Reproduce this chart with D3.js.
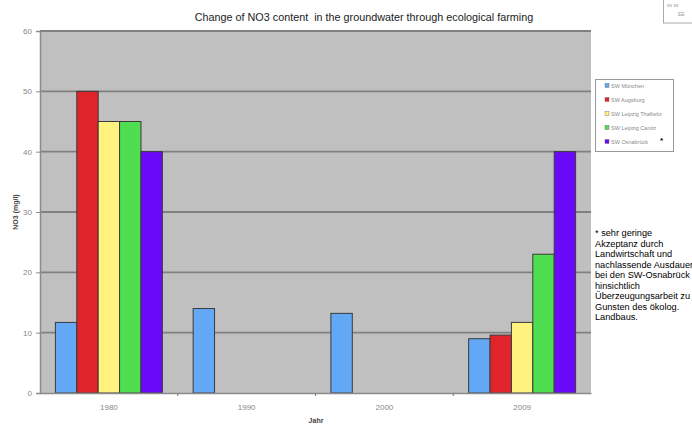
<!DOCTYPE html>
<html>
<head>
<meta charset="utf-8">
<script src="https://cdn.jsdelivr.net/npm/d3@7"></script>
<style>
  body { margin: 0; background: #fff; }
  svg { display: block; font-family: "Liberation Sans", Arial, sans-serif; }
</style>
</head>
<body>
<svg width="692" height="428"></svg>
<script>
let years = ["1980", "1990", "2000", "2009"]
let sites = ["SW München", "SW Augsburg", "SW Leipzig Thallwitz", "SW Leipzig Canitz", "SW Osnabrück"]
let colors = ["#63a8f5", "#e0242c", "#fff27e", "#4ede50", "#6a08fa"]
// one array per site, values per year (null = no bar)
let muenchen = [11.7, 14, 13.2, 9]
let augsburg = [50, null, null, 9.6]
let thallwitz = [45, null, null, 11.7]
let canitz = [45, null, null, 23]
let osnabrueck = [40, null, null, 40]
let yTicks = [0, 10, 20, 30, 40, 50, 60]
let footnote = ["* sehr geringe", "Akzeptanz durch", "Landwirtschaft und", "nachlassende Ausdauer",
  "bei den SW-Osnabrück", "hinsichtlich", "Überzeugungsarbeit zu", "Gunsten des ökolog.", "Landbaus."]

let series = [muenchen, augsburg, thallwitz, canitz, osnabrueck]
let margin = { top: 31, right: 101, bottom: 35, left: 40 }
let width = 692, height = 428

let svg = d3.select("svg")

let x = d3.scaleBand()
    .domain(years)
    .range([margin.left, width - margin.right])
    .paddingInner(0)
    .paddingOuter(0)

let inner = d3.scaleBand()
    .domain(sites)
    .range([0, x.bandwidth()])
    .paddingOuter(0.72)
    .paddingInner(0)

let y = d3.scaleLinear()
    .domain([0, 60])
    .range([height - margin.bottom, margin.top])

// plot background
svg.append("rect")
    .attr("x", margin.left)
    .attr("y", margin.top)
    .attr("width", width - margin.right - margin.left)
    .attr("height", y(0) - margin.top)
    .style("fill", "#c0c0c0")

// gridlines
svg.append("g")
    .selectAll("line")
    .data(yTicks.filter(d => d > 0))
    .join("line")
    .attr("x1", margin.left)
    .attr("x2", width - margin.right)
    .attr("y1", d => y(d))
    .attr("y2", d => y(d))
    .style("stroke", "#808080")
    .style("stroke-width", 1.8)

// bars
let rows = []
years.forEach((yr, i) => {
    sites.forEach((s, j) => {
        if (series[j][i] != null) rows.push({ year: yr, site: s, value: series[j][i], color: colors[j] })
    })
})

svg.append("g")
    .selectAll("rect")
    .data(rows)
    .join("rect")
    .attr("x", d => x(d.year) + inner(d.site))
    .attr("y", d => y(d.value))
    .attr("width", inner.bandwidth())
    .attr("height", d => y(0) - y(d.value))
    .style("fill", d => d.color)
    .style("stroke", "#3a3a3a")
    .style("stroke-width", 1)

// y axis
let yAxis = svg.append("g")
    .attr("transform", `translate(${margin.left},0)`)
    .call(d3.axisLeft(y).tickValues(yTicks).tickSize(4).tickPadding(4))
yAxis.select(".domain").style("stroke", "#8a8a8a").style("stroke-width", 1.5)
yAxis.selectAll(".tick line").style("stroke", "#8a8a8a")
yAxis.selectAll(".tick text")
    .style("font-size", "8px")
    .style("fill", "#888")

// x axis
let xAxis = svg.append("g")
    .attr("transform", `translate(0,${y(0)})`)
    .call(d3.axisBottom(x).tickSize(0).tickPadding(11))
xAxis.select(".domain").style("stroke", "#8a8a8a").style("stroke-width", 1.5)
xAxis.selectAll(".tick text")
    .style("font-size", "8px")
    .style("fill", "#888")

// x category boundary ticks
svg.append("g")
    .selectAll("line")
    .data(years.slice(1))
    .join("line")
    .attr("x1", d => x(d))
    .attr("x2", d => x(d))
    .attr("y1", y(0))
    .attr("y2", y(0) + 3)
    .style("stroke", "#777")

// title
svg.append("text")
    .attr("x", 364)
    .attr("y", 21)
    .attr("text-anchor", "middle")
    .style("font-size", "10.8px")
    .style("fill", "#222")
    .style("white-space", "pre")
    .text("Change of NO3 content  in the groundwater through ecological farming")

// axis titles
svg.append("text")
    .attr("transform", `translate(18,${(y(0) + margin.top) / 2}) rotate(-90)`)
    .attr("text-anchor", "middle")
    .style("font-size", "7px")
    .style("font-weight", "bold")
    .style("fill", "#444")
    .text("NO3 (mg/l)")

svg.append("text")
    .attr("x", 316)
    .attr("y", 423)
    .attr("text-anchor", "middle")
    .style("font-size", "7px")
    .style("font-weight", "bold")
    .style("fill", "#444")
    .text("Jahr")

// legend
let legend = svg.append("g")
legend.append("rect")
    .attr("x", 595.5)
    .attr("y", 79.5)
    .attr("width", 78)
    .attr("height", 72)
    .style("fill", "#fff")
    .style("stroke", "#999")

let items = legend.selectAll("g.item")
    .data(sites)
    .join("g")
    .attr("class", "item")
    .attr("transform", (d, i) => `translate(605,${85 + i * 14})`)

items.append("rect")
    .attr("x", 0)
    .attr("y", -1.5)
    .attr("width", 4)
    .attr("height", 4)
    .style("fill", (d, i) => colors[i])
    .style("stroke", "#666")
    .style("stroke-width", 0.4)

items.append("text")
    .attr("x", 6)
    .attr("y", 2.5)
    .style("font-size", "5.5px")
    .style("fill", "#8a8a8a")
    .text(d => d)

legend.append("text")
    .attr("x", 660)
    .attr("y", 143)
    .style("font-size", "8px")
    .style("font-weight", "bold")
    .style("fill", "#000")
    .text("*")

// small cropped box top right
svg.append("rect")
    .attr("x", 663.5)
    .attr("y", -2)
    .attr("width", 40)
    .attr("height", 25)
    .style("fill", "#fff")
    .style("stroke", "#aaa")
svg.append("text").attr("x", 667).attr("y", 7).style("font-size", "5px").style("fill", "#999").text("ss ss")
svg.append("text").attr("x", 678).attr("y", 16).style("font-size", "5px").style("fill", "#999").text("EE")

// footnote
svg.append("g")
    .selectAll("text")
    .data(footnote)
    .join("text")
    .attr("x", 595)
    .attr("y", (d, i) => 236 + i * 10.5)
    .style("font-size", "9.2px")
    .style("fill", "#000")
    .text(d => d)
</script>
</body>
</html>
